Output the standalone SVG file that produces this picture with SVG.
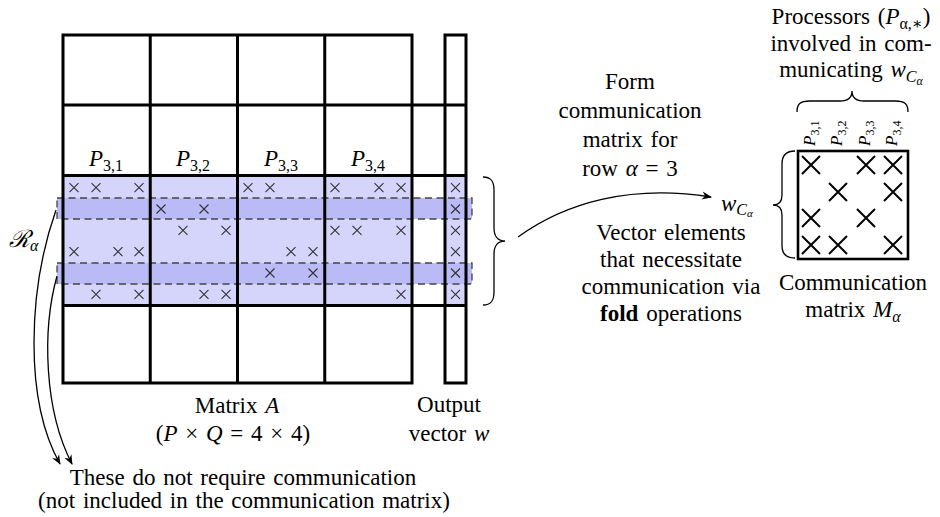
<svg xmlns="http://www.w3.org/2000/svg" xmlns:xlink="http://www.w3.org/1999/xlink" width="940" height="517" viewBox="0 0 940 517" font-family="'Liberation Serif', 'Times New Roman', 'DejaVu Serif', serif">
<style>
text{font-family:'Liberation Serif','Times New Roman','DejaVu Serif',serif;font-size:23px;fill:#000;word-spacing:2px}
.c{text-anchor:middle}
.i{font-style:italic}
.s{font-size:16px}
.grid{stroke:#000;stroke-width:3;fill:none}
.band{fill:#d5d5fb}
.stripe{fill:#babaf6;stroke:#444;stroke-width:1.3;stroke-dasharray:7 4.5}
.sx{stroke:#333;stroke-width:1.1;fill:none}
.bx{stroke:#000;stroke-width:2;fill:none}
.br{stroke:#000;stroke-width:1.3;fill:none}
.con{stroke:#000;stroke-width:1.3;fill:none}
</style>
<defs>
<path id="x" d="M-4.5,-4.5L4.5,4.5M4.5,-4.5L-4.5,4.5"/>
<path id="X" d="M-9,-9L9,9M9,-9L-9,9"/>
<marker id="ah" viewBox="0 0 10 10" refX="9" refY="5" markerWidth="10" markerHeight="10" markerUnits="userSpaceOnUse" orient="auto">
<path d="M0,1 L10,5 L0,9 L3,5 Z" fill="#000"/>
</marker>
</defs>

<g id="matrixA">
<rect class="band" x="63" y="177" width="349" height="128"/>
<rect class="band" x="445" y="177" width="21" height="128"/>
<rect class="stripe" x="57" y="198" width="415" height="21"/>
<rect class="stripe" x="57" y="263" width="415" height="21"/>
<g class="sx">
<use xlink:href="#x" x="74" y="187.7"/><use xlink:href="#x" x="96" y="187.7"/><use xlink:href="#x" x="139" y="187.7"/>
<use xlink:href="#x" x="248" y="187.7"/><use xlink:href="#x" x="270" y="187.7"/>
<use xlink:href="#x" x="335" y="187.7"/><use xlink:href="#x" x="379" y="187.7"/><use xlink:href="#x" x="401" y="187.7"/>
<use xlink:href="#x" x="161" y="209"/><use xlink:href="#x" x="204" y="209"/>
<use xlink:href="#x" x="183" y="230.3"/><use xlink:href="#x" x="226" y="230.3"/>
<use xlink:href="#x" x="335" y="230.3"/><use xlink:href="#x" x="357" y="230.3"/><use xlink:href="#x" x="401" y="230.3"/>
<use xlink:href="#x" x="74" y="251.7"/><use xlink:href="#x" x="118" y="251.7"/><use xlink:href="#x" x="139" y="251.7"/>
<use xlink:href="#x" x="291" y="251.7"/><use xlink:href="#x" x="313" y="251.7"/>
<use xlink:href="#x" x="270" y="273"/><use xlink:href="#x" x="313" y="273"/>
<use xlink:href="#x" x="96" y="294.3"/><use xlink:href="#x" x="139" y="294.3"/>
<use xlink:href="#x" x="204" y="294.3"/><use xlink:href="#x" x="226" y="294.3"/>
<use xlink:href="#x" x="401" y="294.3"/>
<use xlink:href="#x" x="455.5" y="187.7"/><use xlink:href="#x" x="455.5" y="209"/><use xlink:href="#x" x="455.5" y="230.3"/>
<use xlink:href="#x" x="455.5" y="251.7"/><use xlink:href="#x" x="455.5" y="273"/><use xlink:href="#x" x="455.5" y="294.3"/>
</g>
<g class="grid">
<rect x="63" y="35" width="349" height="348"/>
<line x1="150.25" y1="35" x2="150.25" y2="383"/>
<line x1="237.5" y1="35" x2="237.5" y2="383"/>
<line x1="324.75" y1="35" x2="324.75" y2="383"/>
<line x1="63" y1="105" x2="466" y2="105"/>
<line x1="63" y1="175.5" x2="466" y2="175.5"/>
<line x1="63" y1="305.5" x2="466" y2="305.5"/>
</g>
<text x="106" y="166" class="c"><tspan class="i">P</tspan><tspan class="s" dy="5">3,1</tspan></text>
<text x="193" y="166" class="c"><tspan class="i">P</tspan><tspan class="s" dy="5">3,2</tspan></text>
<text x="281" y="166" class="c"><tspan class="i">P</tspan><tspan class="s" dy="5">3,3</tspan></text>
<text x="368" y="166" class="c"><tspan class="i">P</tspan><tspan class="s" dy="5">3,4</tspan></text>
<text x="237" y="413" class="c">Matrix <tspan class="i">A</tspan></text>
<text x="233" y="441" class="c">(<tspan class="i">P</tspan> × <tspan class="i">Q</tspan> = 4 × 4)</text>
</g>

<g id="vectorW">
<rect class="grid" x="445" y="35" width="21" height="348"/>
<text x="449" y="412" class="c">Output</text>
<text x="449" y="441" class="c">vector <tspan class="i">w</tspan></text>
</g>

<g id="rAlpha">
<text x="9" y="247" style="font-size:24px;font-style:italic">ℛ<tspan class="s" dy="4">α</tspan></text>
</g>

<g id="noCommNote">
<text x="243" y="485" class="c">These do not require communication</text>
<text x="244" y="508" class="c">(not included in the communication matrix)</text>
</g>

<g id="rowBrace">
<path class="br" d="M483,177 C491,177 494,181 494,190 L494,228 C494,236 498,241 505,241 C498,241 494,246 494,254 L494,292 C494,301 491,305 483,305"/>
</g>

<g id="formLabel">
<text x="630" y="89" class="c">Form</text>
<text x="630" y="118" class="c">communication</text>
<text x="630" y="147" class="c">matrix for</text>
<text x="630" y="176" class="c">row <tspan class="i">α</tspan> = 3</text>
</g>

<g id="vectorLabel">
<text x="671" y="240" class="c">Vector elements</text>
<text x="671" y="267" class="c">that necessitate</text>
<text x="671" y="294" class="c">communication via</text>
<text x="671" y="321" class="c"><tspan font-weight="bold">fold</tspan> operations</text>
</g>

<g id="wC">
<text x="721" y="211" class="i">w<tspan class="s" dy="4">C</tspan><tspan style="font-size:11px" dy="2">α</tspan></text>
</g>

<g id="processorsLabel">
<text x="851" y="24" class="c">Processors (<tspan class="i">P</tspan><tspan class="s" dy="5">α,∗</tspan><tspan dy="-5">)</tspan></text>
<text x="851" y="51" class="c">involved in com-</text>
<text x="851" y="77" class="c">municating <tspan class="i">w</tspan><tspan class="s i" dy="5">C</tspan><tspan class="i" style="font-size:12px" dy="3">α</tspan></text>
</g>

<g id="commMatrix">
<rect x="798" y="151" width="110" height="108" fill="#fff" stroke="#000" stroke-width="2.6"/>
<g class="bx">
<use xlink:href="#X" x="811" y="165"/><use xlink:href="#X" x="866" y="165"/><use xlink:href="#X" x="893" y="165"/>
<use xlink:href="#X" x="838" y="192"/><use xlink:href="#X" x="893" y="192"/>
<use xlink:href="#X" x="811" y="218"/><use xlink:href="#X" x="866" y="218"/>
<use xlink:href="#X" x="811" y="245"/><use xlink:href="#X" x="838" y="245"/><use xlink:href="#X" x="893" y="245"/>
</g>
<text transform="translate(815,146) rotate(-90)" style="font-size:17px"><tspan class="i">P</tspan><tspan style="font-size:12px" dy="4">3,1</tspan></text>
<text transform="translate(842,146) rotate(-90)" style="font-size:17px"><tspan class="i">P</tspan><tspan style="font-size:12px" dy="4">3,2</tspan></text>
<text transform="translate(870,146) rotate(-90)" style="font-size:17px"><tspan class="i">P</tspan><tspan style="font-size:12px" dy="4">3,3</tspan></text>
<text transform="translate(897,146) rotate(-90)" style="font-size:17px"><tspan class="i">P</tspan><tspan style="font-size:12px" dy="4">3,4</tspan></text>
<path class="br" d="M797,112 C797,104 800,101 810,101 L840,101 C848,101 852,97 852,91 C852,97 856,101 864,101 L895,101 C905,101 908,104 908,112"/>
<path class="br" d="M795,151 C786,151 782,155 782,164 L782,195 C782,201 779,205 773,205 C779,205 782,209 782,215 L782,246 C782,254 786,258 795,258"/>
<text x="853" y="290" class="c">Communication</text>
<text x="853" y="317" class="c">matrix <tspan class="i">M</tspan><tspan class="s i" dy="5">α</tspan></text>
</g>

<g id="connectors">
<path class="con" d="M518,237 C565,203 630,184 711,197" marker-end="url(#ah)"/>
<path class="con" d="M56,210 C28,290 24,400 60,464" marker-end="url(#ah)"/>
<path class="con" d="M57,276 C42,330 44,410 72,464" marker-end="url(#ah)"/>
</g>
</svg>
